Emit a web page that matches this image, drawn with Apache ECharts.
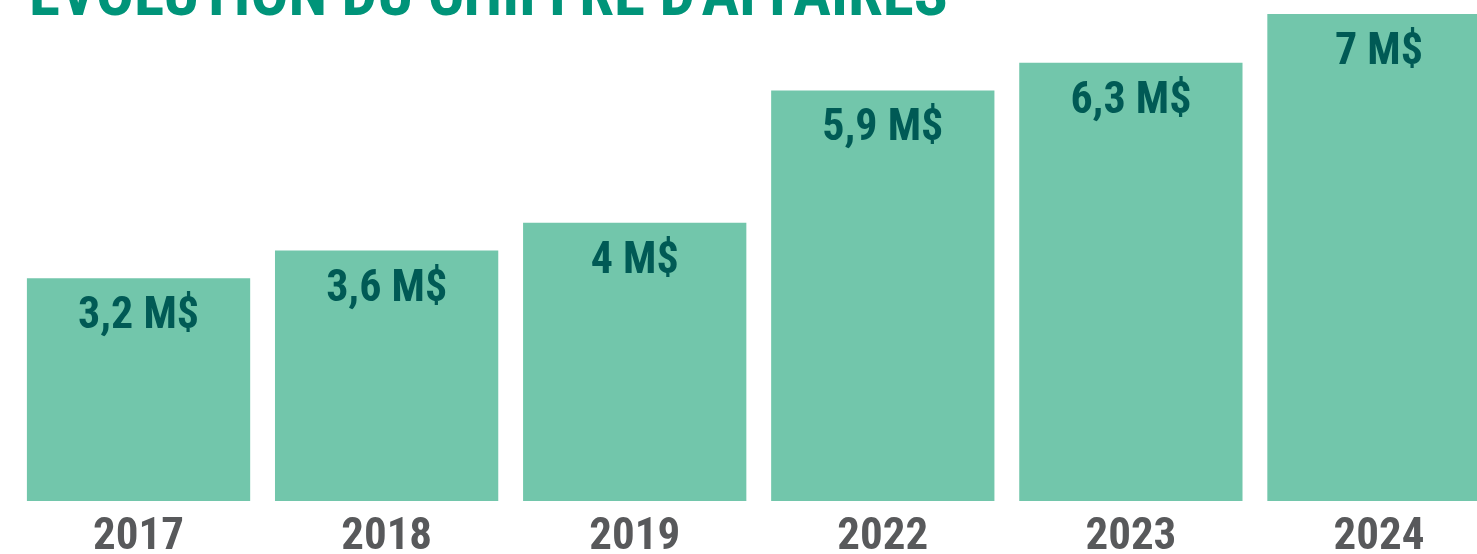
<!DOCTYPE html>
<html>
<head>
<meta charset="utf-8">
<script src="https://cdn.jsdelivr.net/npm/echarts@6/dist/echarts.min.js"></script>
<style>
    html, body { margin: 0; padding: 0; overflow: hidden; background: #fff; }
</style>
</head>
<body>
<div id="ca" style="width: 1503px; height: 554px;"></div>

<script>
    var FONT = "'Roboto Condensed', 'Open Sans Condensed', sans-serif";

    // années et chiffre d'affaires (M$)
    var annees = ['2017', '2018', '2019', '2022', '2023', '2024'];
    var chiffre = [3.2, 3.6, 4, 5.9, 6.3, 7];
    var etiquettes = ['3,2 M$', '3,6 M$', '4 M$', '5,9 M$', '6,3 M$', '7 M$'];

    var chart = echarts.init(document.getElementById('ca'));

    var option = {
        animation: false,
        title: {
            text: "ÉVOLUTION DU CHIFFRE D'AFFAIRES",
            left: 24,
            top: -37,
            textStyle: {
                fontFamily: FONT,
                fontSize: 63,
                fontWeight: 'bold',
                color: '#009479'
            }
        },
        grid: {
            left: 14.5,
            right: 0,
            top: 0,
            bottom: 53,
            containLabel: false,
            outerBoundsMode: 'none'
        },
        xAxis: {
            type: 'category',
            data: annees,
            axisLine: { show: false },
            axisTick: { show: false },
            axisLabel: {
                margin: 14,
                fontFamily: FONT,
                fontSize: 45,
                fontWeight: 'bold',
                color: '#58595b'
            }
        },
        yAxis: {
            type: 'value',
            min: 0,
            max: 7.2,
            show: false,
            splitLine: { show: false }
        },
        series: [{
            type: 'bar',
            data: chiffre,
            barCategoryGap: '10%',
            itemStyle: { color: '#72c6ab' },
            label: {
                show: true,
                position: 'insideTop',
                distance: 17,
                fontFamily: FONT,
                fontSize: 44,
                fontWeight: 'bold',
                color: '#005a55',
                formatter: function (p) { return etiquettes[p.dataIndex]; }
            }
        }]
    };

    chart.setOption(option);
</script>
</body>
</html>
